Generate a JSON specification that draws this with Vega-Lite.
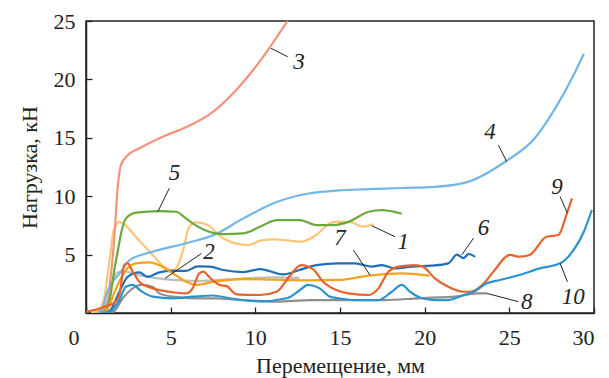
{
  "$schema": "https://vega.github.io/schema/vega-lite/v6.json",
  "width": 508,
  "height": 292,
  "autosize": {"type": "none"},
  "padding": {"left": 86, "top": 21, "right": 15, "bottom": 65},
  "background": "white",
  "config": {
    "view": {"stroke": "#222", "strokeWidth": 1.5},
    "font": "Liberation Serif, Times New Roman, serif",
    "axis": {
      "domainColor": "#222", "domainWidth": 1.5, "tickColor": "#222", "tickWidth": 1.3,
      "labelFont": "Liberation Serif, Times New Roman, serif", "labelFontSize": 22, "labelColor": "#222",
      "titleFont": "Liberation Serif, Times New Roman, serif", "titleFontSize": 22, "titleFontWeight": "normal", "titleColor": "#222",
      "grid": false
    }
  },
  "datasets": {
    "curves": [
      {"s":"1","x":0.3,"y":0},{"s":"1","x":0.8,"y":0.3},{"s":"1","x":1.1,"y":1.5},{"s":"1","x":1.38,"y":4.4},{"s":"1","x":1.67,"y":7.25},{"s":"1","x":1.97,"y":7.8},{"s":"1","x":2.26,"y":7.6},{"s":"1","x":2.95,"y":6.5},{"s":"1","x":3.94,"y":4.97},{"s":"1","x":4.73,"y":3.82},{"s":"1","x":5.2,"y":3.68},{"s":"1","x":5.71,"y":5.25},{"s":"1","x":6.1,"y":7.39},{"s":"1","x":6.5,"y":7.76},{"s":"1","x":7.09,"y":7.6},{"s":"1","x":8.1,"y":6.4},{"s":"1","x":9.1,"y":5.88},{"s":"1","x":9.6,"y":5.82},{"s":"1","x":10.3,"y":6.2},{"s":"1","x":11.06,"y":6.3},{"s":"1","x":12.0,"y":6.2},{"s":"1","x":12.7,"y":6.1},{"s":"1","x":13.6,"y":6.68},{"s":"1","x":14.4,"y":7.68},{"s":"1","x":14.8,"y":7.82},{"s":"1","x":15.7,"y":7.76},{"s":"1","x":16.3,"y":7.4},{"s":"1","x":16.7,"y":7.48},{"s":"1","x":17.0,"y":7.6},
      {"s":"2","x":0.6,"y":0},{"s":"2","x":1.0,"y":0.2},{"s":"2","x":1.3,"y":1.2},{"s":"2","x":1.57,"y":2.68},{"s":"2","x":1.87,"y":3.48},{"s":"2","x":2.36,"y":3.54},{"s":"2","x":2.95,"y":3.3},{"s":"2","x":3.94,"y":3.03},{"s":"2","x":5.12,"y":2.83},{"s":"2","x":6.5,"y":2.74},{"s":"2","x":7.58,"y":2.8},{"s":"2","x":9.29,"y":2.97},{"s":"2","x":11.26,"y":3.05},{"s":"2","x":12.6,"y":3.0},
      {"s":"3","x":0.8,"y":0},{"s":"3","x":1.2,"y":0.6},{"s":"3","x":1.45,"y":3},{"s":"3","x":1.65,"y":6},{"s":"3","x":1.87,"y":10.7},{"s":"3","x":2.07,"y":12.7},{"s":"3","x":2.46,"y":13.5},{"s":"3","x":3.15,"y":14.1},{"s":"3","x":4.53,"y":15.1},{"s":"3","x":5.9,"y":15.9},{"s":"3","x":7.48,"y":17.2},{"s":"3","x":9.06,"y":19.4},{"s":"3","x":10.24,"y":21.5},{"s":"3","x":10.93,"y":22.9},{"s":"3","x":11.9,"y":25},
      {"s":"4","x":0.7,"y":0},{"s":"4","x":1.0,"y":0.5},{"s":"4","x":1.18,"y":1.5},{"s":"4","x":1.5,"y":2.5},{"s":"4","x":1.97,"y":3.35},{"s":"4","x":2.56,"y":4.5},{"s":"4","x":3.94,"y":5.25},{"s":"4","x":5.9,"y":5.97},{"s":"4","x":7.58,"y":6.7},{"s":"4","x":9.29,"y":8.1},{"s":"4","x":11.26,"y":9.5},{"s":"4","x":13.23,"y":10.25},{"s":"4","x":14.9,"y":10.5},{"s":"4","x":16.7,"y":10.6},{"s":"4","x":18.65,"y":10.7},{"s":"4","x":20.6,"y":10.8},{"s":"4","x":22.6,"y":11.25},{"s":"4","x":24.75,"y":12.95},{"s":"4","x":26.5,"y":14.96},{"s":"4","x":27.7,"y":17.5},{"s":"4","x":28.7,"y":20.1},{"s":"4","x":29.4,"y":22.2},
      {"s":"5","x":0.8,"y":0},{"s":"5","x":1.2,"y":0.3},{"s":"5","x":1.45,"y":1.5},{"s":"5","x":1.65,"y":3.5},{"s":"5","x":1.87,"y":5.25},{"s":"5","x":2.1,"y":7},{"s":"5","x":2.36,"y":8.1},{"s":"5","x":2.95,"y":8.6},{"s":"5","x":4.33,"y":8.73},{"s":"5","x":5.32,"y":8.67},{"s":"5","x":5.9,"y":8.1},{"s":"5","x":6.3,"y":7.68},{"s":"5","x":7.0,"y":7.1},{"s":"5","x":8.1,"y":6.75},{"s":"5","x":9.29,"y":6.82},{"s":"5","x":10.3,"y":7.4},{"s":"5","x":11.26,"y":7.96},{"s":"5","x":12.64,"y":7.96},{"s":"5","x":13.6,"y":7.53},{"s":"5","x":14.6,"y":7.53},{"s":"5","x":15.5,"y":7.8},{"s":"5","x":16.7,"y":8.67},{"s":"5","x":17.46,"y":8.8},{"s":"5","x":18.65,"y":8.5},
      {"s":"6","x":0.8,"y":0},{"s":"6","x":1.4,"y":0.2},{"s":"6","x":1.97,"y":1.82},{"s":"6","x":2.46,"y":3.1},{"s":"6","x":3.15,"y":3.48},{"s":"6","x":3.64,"y":3.1},{"s":"6","x":4.33,"y":3.48},{"s":"6","x":5.12,"y":3.6},{"s":"6","x":5.9,"y":3.6},{"s":"6","x":6.6,"y":4.0},{"s":"6","x":7.32,"y":3.97},{"s":"6","x":8.1,"y":3.68},{"s":"6","x":9.29,"y":3.5},{"s":"6","x":10.28,"y":3.75},{"s":"6","x":11.65,"y":3.3},{"s":"6","x":12.6,"y":3.68},{"s":"6","x":13.6,"y":4.1},{"s":"6","x":14.9,"y":4.25},{"s":"6","x":15.9,"y":4.25},{"s":"6","x":16.88,"y":3.97},{"s":"6","x":17.46,"y":4.1},{"s":"6","x":18.25,"y":3.82},{"s":"6","x":19.24,"y":3.97},{"s":"6","x":20.4,"y":4.05},{"s":"6","x":21.4,"y":4.25},{"s":"6","x":21.9,"y":5.0},{"s":"6","x":22.3,"y":4.7},{"s":"6","x":22.6,"y":5.05},{"s":"6","x":22.98,"y":4.8},
      {"s":"7","x":0.8,"y":0},{"s":"7","x":1.2,"y":0.2},{"s":"7","x":1.77,"y":2.1},{"s":"7","x":2.36,"y":3.68},{"s":"7","x":2.95,"y":4.25},{"s":"7","x":3.74,"y":4.34},{"s":"7","x":4.33,"y":4.1},{"s":"7","x":5.12,"y":3.4},{"s":"7","x":5.9,"y":2.68},{"s":"7","x":6.5,"y":2.4},{"s":"7","x":7.58,"y":2.68},{"s":"7","x":9.29,"y":2.9},{"s":"7","x":11.0,"y":2.85},{"s":"7","x":13.0,"y":2.8},{"s":"7","x":14.9,"y":2.83},{"s":"7","x":16.7,"y":3.2},{"s":"7","x":18.65,"y":3.4},{"s":"7","x":20.0,"y":3.25},{"s":"7","x":20.3,"y":3.17},
      {"s":"8","x":0.9,"y":0},{"s":"8","x":1.6,"y":0.1},{"s":"8","x":2.17,"y":1.26},{"s":"8","x":2.76,"y":2.11},{"s":"8","x":3.25,"y":2.4},{"s":"8","x":3.94,"y":2.25},{"s":"8","x":4.33,"y":1.68},{"s":"8","x":5.12,"y":1.4},{"s":"8","x":6.5,"y":1.26},{"s":"8","x":7.58,"y":1.26},{"s":"8","x":9.29,"y":1.11},{"s":"8","x":11.26,"y":0.97},{"s":"8","x":13.23,"y":1.11},{"s":"8","x":14.9,"y":1.11},{"s":"8","x":17.66,"y":1.11},{"s":"8","x":19.6,"y":1.26},{"s":"8","x":22.1,"y":1.45},{"s":"8","x":23.07,"y":1.68},{"s":"8","x":23.67,"y":1.68},
      {"s":"9","x":0,"y":0.1},{"s":"9","x":0.6,"y":0.3},{"s":"9","x":1.2,"y":0.6},{"s":"9","x":1.6,"y":0.8},{"s":"9","x":1.97,"y":1.54},{"s":"9","x":2.26,"y":4.1},{"s":"9","x":2.46,"y":4.25},{"s":"9","x":2.76,"y":3.54},{"s":"9","x":3.15,"y":2.68},{"s":"9","x":3.94,"y":2.11},{"s":"9","x":4.92,"y":1.82},{"s":"9","x":5.9,"y":1.68},{"s":"9","x":6.3,"y":2.11},{"s":"9","x":6.69,"y":3.4},{"s":"9","x":6.95,"y":3.55},{"s":"9","x":7.2,"y":3.2},{"s":"9","x":7.58,"y":2.68},{"s":"9","x":7.9,"y":2.4},{"s":"9","x":8.31,"y":2.3},{"s":"9","x":8.9,"y":1.6},{"s":"9","x":10.28,"y":1.54},{"s":"9","x":11.26,"y":1.82},{"s":"9","x":12.05,"y":3.2},{"s":"9","x":12.7,"y":4.1},{"s":"9","x":13.4,"y":3.75},{"s":"9","x":14.0,"y":2.68},{"s":"9","x":14.9,"y":1.9},{"s":"9","x":15.5,"y":1.68},{"s":"9","x":16.7,"y":1.54},{"s":"9","x":17.27,"y":2.11},{"s":"9","x":17.86,"y":3.54},{"s":"9","x":18.45,"y":3.97},{"s":"9","x":19.43,"y":4.1},{"s":"9","x":19.9,"y":3.97},{"s":"9","x":20.6,"y":2.97},{"s":"9","x":21.2,"y":2.4},{"s":"9","x":22.3,"y":1.82},{"s":"9","x":22.7,"y":1.82},{"s":"9","x":23.5,"y":2.54},{"s":"9","x":24.06,"y":3.54},{"s":"9","x":25.04,"y":4.97},{"s":"9","x":25.6,"y":4.82},{"s":"9","x":26.2,"y":4.97},{"s":"9","x":27.2,"y":6.53},{"s":"9","x":27.9,"y":6.68},{"s":"9","x":28.4,"y":8.54},{"s":"9","x":28.7,"y":9.82},
      {"s":"10","x":0.9,"y":0},{"s":"10","x":1.4,"y":0.1},{"s":"10","x":1.97,"y":1.11},{"s":"10","x":2.36,"y":2.25},{"s":"10","x":2.76,"y":2.4},{"s":"10","x":3.25,"y":1.88},{"s":"10","x":3.94,"y":1.4},{"s":"10","x":5.12,"y":1.26},{"s":"10","x":6.3,"y":1.4},{"s":"10","x":7.5,"y":1.5},{"s":"10","x":8.5,"y":1.26},{"s":"10","x":10.28,"y":1.0},{"s":"10","x":11.85,"y":1.26},{"s":"10","x":12.64,"y":1.97},{"s":"10","x":13.1,"y":2.4},{"s":"10","x":13.8,"y":2.11},{"s":"10","x":14.4,"y":1.4},{"s":"10","x":14.9,"y":1.26},{"s":"10","x":15.9,"y":1.11},{"s":"10","x":17.27,"y":1.11},{"s":"10","x":18.06,"y":1.82},{"s":"10","x":18.65,"y":2.4},{"s":"10","x":19.14,"y":1.82},{"s":"10","x":19.83,"y":1.26},{"s":"10","x":20.6,"y":1.11},{"s":"10","x":21.4,"y":1.11},{"s":"10","x":22.3,"y":1.54},{"s":"10","x":22.9,"y":1.82},{"s":"10","x":23.67,"y":2.54},{"s":"10","x":24.45,"y":2.83},{"s":"10","x":25.6,"y":3.25},{"s":"10","x":26.8,"y":3.82},{"s":"10","x":28.0,"y":4.25},{"s":"10","x":28.8,"y":5.4},{"s":"10","x":29.4,"y":6.96},{"s":"10","x":29.87,"y":8.82}
    ],
    "leaders": [
      {"x":10.93,"y":22.66,"x2":11.91,"y2":21.94},
      {"x":4.24,"y":8.67,"x2":4.92,"y2":10.68},
      {"x":24.85,"y":12.95,"x2":24.35,"y2":14.38},
      {"x":28.43,"y":8.54,"x2":28.0,"y2":9.96},
      {"x":22.19,"y":4.97,"x2":22.88,"y2":6.4},
      {"x":16.77,"y":3.25,"x2":15.79,"y2":5.39},
      {"x":16.88,"y":7.47,"x2":18.25,"y2":6.53},
      {"x":4.67,"y":2.97,"x2":6.83,"y2":5.11},
      {"x":23.67,"y":1.68,"x2":25.53,"y2":0.97},
      {"x":28.0,"y":4.25,"x2":28.43,"y2":2.68}
    ],
    "labels": [
      {"t":"3","x":12.58,"y":21.5},
      {"t":"5","x":5.22,"y":11.96},
      {"t":"4","x":23.86,"y":15.52},
      {"t":"9","x":27.82,"y":10.79},
      {"t":"6","x":23.47,"y":7.25},
      {"t":"7","x":15.0,"y":6.4},
      {"t":"1","x":18.74,"y":6.1},
      {"t":"2","x":7.27,"y":5.22},
      {"t":"8","x":26.03,"y":0.97},
      {"t":"10","x":28.78,"y":1.4}
    ]
  },
  "layer": [
    {
      "data": {"name": "curves"},
      "mark": {"type": "line", "strokeWidth": 2.2, "interpolate": "monotone", "clip": true},
      "encoding": {
        "x": {"field": "x", "type": "quantitative",
              "scale": {"domain": [0, 30], "nice": false},
              "axis": {"title": "Перемещение, мм", "values": [0,5,10,15,20,25,30], "tickSize": -6, "labelPadding": 20, "titlePadding": 7,
                       "labelOffset": {"condition": {"test": "datum.value === 0", "value": -18}, "value": 0}}},
        "y": {"field": "y", "type": "quantitative",
              "scale": {"domain": [0, 25], "nice": false},
              "axis": {"title": "Нагрузка, кН", "values": [5,10,15,20,25], "tickSize": -6, "labelPadding": 17, "titlePadding": 12}},
        "color": {"field": "s", "type": "nominal", "legend": null,
                  "scale": {"domain": ["1","2","3","4","5","6","7","8","9","10"],
                            "range": ["#FDC47A","#BDBDBD","#F4937C","#73B6E6","#6AAA3A","#1E6FB7","#F5A31C","#8E8E8E","#E8622C","#2B94CE"]}},
        "detail": {"field": "s"}
      }
    },
    {
      "data": {"name": "leaders"},
      "mark": {"type": "rule", "color": "#222", "strokeWidth": 1},
      "encoding": {
        "x": {"field": "x", "type": "quantitative"},
        "y": {"field": "y", "type": "quantitative"},
        "x2": {"field": "x2"},
        "y2": {"field": "y2"}
      }
    },
    {
      "data": {"name": "labels"},
      "mark": {"type": "text", "font": "Liberation Serif, Times New Roman, serif", "fontStyle": "italic", "fontSize": 23, "color": "#222", "align": "center", "baseline": "middle"},
      "encoding": {
        "x": {"field": "x", "type": "quantitative"},
        "y": {"field": "y", "type": "quantitative"},
        "text": {"field": "t"}
      }
    }
  ]
}
